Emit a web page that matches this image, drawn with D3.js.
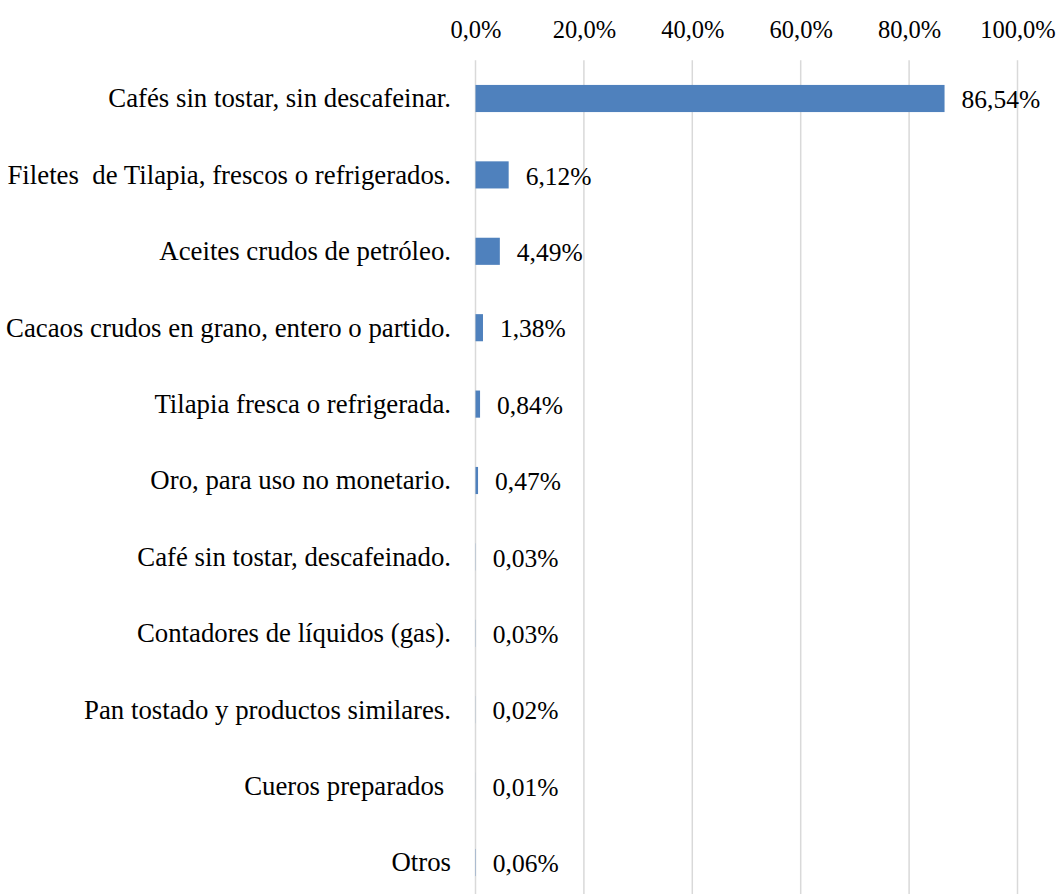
<!DOCTYPE html>
<html>
<head>
<meta charset="utf-8">
<script src="https://cdn.jsdelivr.net/npm/d3@7"></script>
<style>
  body { margin: 0; background: #fff; }
  svg text { font-family: "Liberation Serif", "Times New Roman", serif; fill: #000; white-space: pre; }
</style>
</head>
<body>
<svg class="chart" width="1058" height="894"></svg>
<script>
var categories = [
  "Cafés sin tostar, sin descafeinar.",
  "Filetes  de Tilapia, frescos o refrigerados.",
  "Aceites crudos de petróleo.",
  "Cacaos crudos en grano, entero o partido.",
  "Tilapia fresca o refrigerada.",
  "Oro, para uso no monetario.",
  "Café sin tostar, descafeinado.",
  "Contadores de líquidos (gas).",
  "Pan tostado y productos similares.",
  "Cueros preparados ",
  "Otros"
];
var values = [86.54, 6.12, 4.49, 1.38, 0.84, 0.47, 0.03, 0.03, 0.02, 0.01, 0.06];
var valueLabels = ["86,54%", "6,12%", "4,49%", "1,38%", "0,84%", "0,47%", "0,03%", "0,03%", "0,02%", "0,01%", "0,06%"];
var ticks = [0, 20, 40, 60, 80, 100];

var chart = d3.select("svg.chart"),
    plotLeft = 475.5, plotRight = 1017.5,
    plotTop = 60.3, plotBottom = 900.7;

var xScale = d3.scaleLinear().domain([0, 100]).range([plotLeft, plotRight]);
var yScale = d3.scaleBand().domain(categories).range([plotTop, plotBottom]).paddingInner(0.645).paddingOuter(0.3225);

// gridlines
chart.append("g")
  .selectAll("line")
  .data(ticks)
  .enter()
  .append("line")
  .attr("x1", function(d) { return xScale(d); })
  .attr("x2", function(d) { return xScale(d); })
  .attr("y1", plotTop)
  .attr("y2", 894)
  .attr("stroke", "#d9d9d9")
  .attr("stroke-width", 1.5);

// top axis
var xAxis = d3.axisTop(xScale).tickValues(ticks).tickSize(0).tickPadding(0)
  .tickFormat(function(d) { return d3.format(".1f")(d).replace(".", ",") + "%"; });

chart.append("g").attr("id", "xAxisG")
  .attr("transform", "translate(0,38)")
  .call(xAxis)
  .call(function(g) { g.select(".domain").remove(); })
  .selectAll("text")
  .attr("dy", 0)
  .style("font-size", "24.5px");

// category labels
var yAxis = d3.axisLeft(yScale).tickSize(0).tickPadding(0);
chart.append("g").attr("id", "yAxisG")
  .attr("transform", "translate(451,0)")
  .call(yAxis)
  .call(function(g) { g.select(".domain").remove(); })
  .selectAll("text")
  .attr("dy", "0.33em")
  .style("font-size", "26.8px");

// bars
chart.append("g")
  .selectAll("rect")
  .data(values)
  .enter()
  .append("rect")
  .attr("x", xScale(0))
  .attr("y", function(d, i) { return yScale(categories[i]); })
  .attr("width", function(d) { return xScale(d) - xScale(0); })
  .attr("height", yScale.bandwidth())
  .attr("fill", "#4f81bd");

// value labels
chart.append("g")
  .selectAll("text")
  .data(values)
  .enter()
  .append("text")
  .attr("x", function(d) { return xScale(d) + 17; })
  .attr("y", function(d, i) { return yScale(categories[i]) + yScale.bandwidth() / 2; })
  .attr("dy", "0.38em")
  .style("font-size", "25.5px")
  .text(function(d, i) { return valueLabels[i]; });
</script>
</body>
</html>
